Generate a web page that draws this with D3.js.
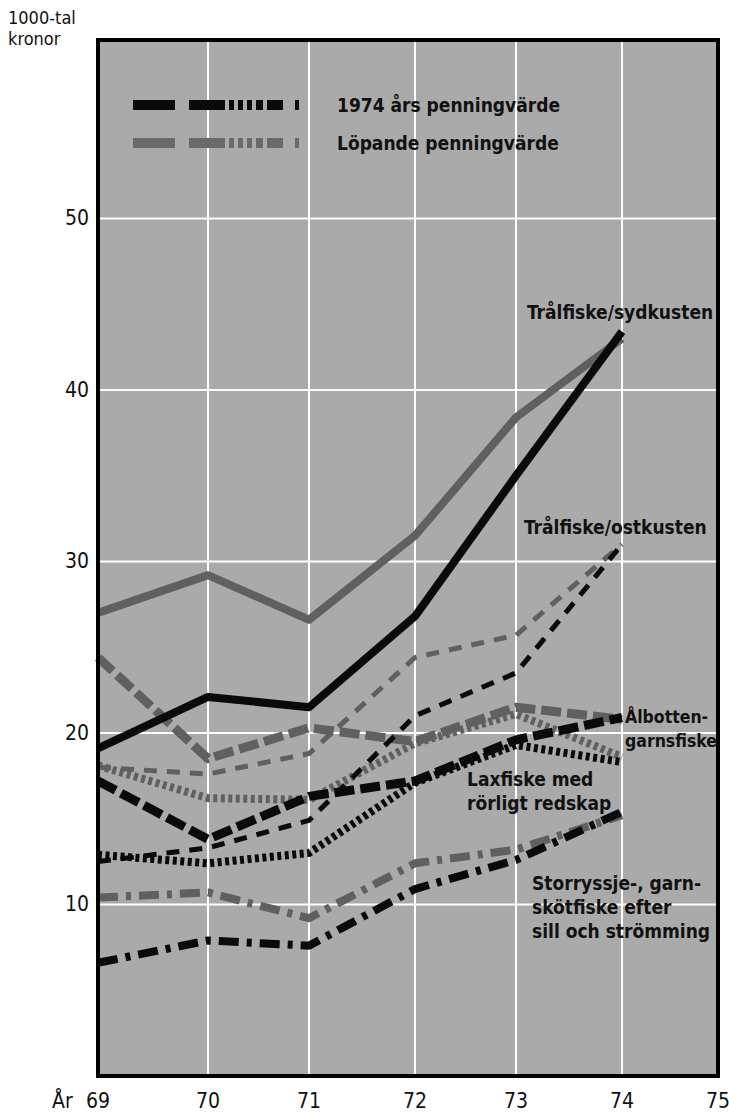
<!DOCTYPE html>
<html>
<head>
<meta charset="utf-8">
<script src="https://cdn.jsdelivr.net/npm/d3@7"></script>
<style>
  body { margin: 0; background: #fff; }
  svg text { font-family: "Liberation Sans Narrow", "DejaVu Sans Condensed", "Liberation Sans", sans-serif; fill: #111; }
</style>
</head>
<body>
<svg id="chart" width="729" height="1113"></svg>
<script>
var years = [69, 70, 71, 72, 73, 74];
var xTicks = [69, 70, 71, 72, 73, 74, 75];
var yTicks = [10, 20, 30, 40, 50];

// 1000-tal kronor, 1974 års penningvärde (svart) och löpande (grå)
var sydkusten1974 = [19.1, 22.1, 21.5, 26.8, 35.0, 43.4];
var sydkustenLop  = [27.0, 29.2, 26.6, 31.5, 38.4, 43.0];
var ostkusten1974 = [12.5, 13.3, 14.9, 21.0, 23.5, 31.0];
var ostkustenLop  = [18.0, 17.6, 18.8, 24.4, 25.7, 31.0];
var albotten1974  = [17.2, 13.8, 16.3, 17.2, 19.6, 20.9];
var albottenLop   = [24.4, 18.5, 20.3, 19.5, 21.5, 20.8];
var laxfiske1974  = [12.9, 12.4, 13.0, 17.1, 19.3, 18.3];
var laxfiskeLop   = [18.1, 16.2, 16.1, 19.4, 21.1, 18.6];
var storryssje1974 = [6.6, 7.9, 7.6, 10.9, 12.6, 15.4];
var storryssjeLop  = [10.4, 10.7, 9.2, 12.4, 13.2, 15.2];

var BLACK = "#0a0a0a", GRAY = "#606060", BG = "#aaaaaa";

var svg = d3.select("#chart");

// the printed grid is a bit uneven, so the x scale is piecewise
var x = d3.scaleLinear()
    .domain(xTicks)
    .range([98, 208, 309, 415, 516, 622, 718]);

var y = d3.scaleLinear()
    .domain([0, 60.4])
    .range([1076, 40]);

var styles = {
  solid:   { w: 8, dash: null },
  thin:    { w: 5, dash: "13 10" },
  long:    { w: 9, dash: "20 6" },
  dotted:  { w: 8, dash: "4 3.5" },
  dashdot: { w: 8, dash: "20 8 5 8" }
};

var series = [
  { v: sydkustenLop, c: GRAY, s: "solid" },
  { v: ostkustenLop, c: GRAY, s: "thin" },
  { v: albottenLop, c: GRAY, s: "long" },
  { v: laxfiskeLop, c: GRAY, s: "dotted" },
  { v: storryssjeLop, c: GRAY, s: "dashdot" },
  { v: sydkusten1974, c: BLACK, s: "solid" },
  { v: ostkusten1974, c: BLACK, s: "thin" },
  { v: laxfiske1974, c: BLACK, s: "dotted" },
  { v: albotten1974, c: BLACK, s: "long" },
  { v: storryssje1974, c: BLACK, s: "dashdot" }
];

// plot background
svg.append("rect")
  .attr("x", x(69)).attr("y", y(60.4))
  .attr("width", x(75) - x(69)).attr("height", y(0) - y(60.4))
  .attr("fill", BG);

// grid
var g = svg.append("g");
g.selectAll(".vgrid").data(xTicks.slice(1, -1)).enter().append("line")
  .attr("x1", function(d) { return x(d); }).attr("x2", function(d) { return x(d); })
  .attr("y1", y(60.4)).attr("y2", y(0))
  .attr("stroke", "#fff").attr("stroke-width", 2);
g.selectAll(".hgrid").data(yTicks).enter().append("line")
  .attr("x1", x(69)).attr("x2", x(75))
  .attr("y1", function(d) { return y(d); }).attr("y2", function(d) { return y(d); })
  .attr("stroke", "#fff").attr("stroke-width", 2);

// lines
var line = d3.line()
  .x(function(d, i) { return x(years[i]); })
  .y(function(d) { return y(d); });

svg.selectAll(".series").data(series).enter().append("path")
  .attr("d", function(d) { return line(d.v); })
  .attr("fill", "none")
  .attr("stroke", function(d) { return d.c; })
  .attr("stroke-width", function(d) { return styles[d.s].w; })
  .attr("stroke-dasharray", function(d) { return styles[d.s].dash; })
  .attr("stroke-linejoin", "round")
  .attr("stroke-linecap", "butt");

// frame
svg.append("rect")
  .attr("x", x(69)).attr("y", y(60.4))
  .attr("width", x(75) - x(69)).attr("height", y(0) - y(60.4))
  .attr("fill", "none").attr("stroke", "#000").attr("stroke-width", 4);

// y axis labels
svg.selectAll(".ylab").data(yTicks).enter().append("text")
  .attr("x", 89).attr("y", function(d) { return y(d) + 7; })
  .attr("text-anchor", "end")
  .style("font-size", "21px")
  .text(function(d) { return d; });

svg.append("text").attr("x", 8).attr("y", 24).style("font-size", "18px").text("1000-tal");
svg.append("text").attr("x", 8).attr("y", 45).style("font-size", "18px").text("kronor");

// x axis labels
svg.selectAll(".xlab").data(xTicks).enter().append("text")
  .attr("x", function(d) { return x(d); }).attr("y", 1108)
  .attr("text-anchor", "middle")
  .style("font-size", "21px")
  .text(function(d) { return d; });
svg.append("text").attr("x", 52).attr("y", 1108).style("font-size", "21px").text("År");

// legend
var legend = [
  { label: "1974 års penningvärde", c: BLACK },
  { label: "Löpande penningvärde", c: "#6a6a6a" }
];
var lg = svg.selectAll(".legend").data(legend).enter().append("g")
  .attr("transform", function(d, i) { return "translate(0," + (105 + i * 38) + ")"; });
lg.append("line")
  .attr("x1", 133).attr("x2", 300)
  .attr("stroke", function(d) { return d.c; })
  .attr("stroke-width", 10)
  .attr("stroke-dasharray", "42 14 36 4 5 4 5 4 5 4 7 4 16 12 4");
lg.append("text")
  .attr("x", 337).attr("y", 7)
  .style("font-size", "19px").style("font-weight", "bold")
  .text(function(d) { return d.label; });

// series labels
var labels = [
  { lines: ["Trålfiske/sydkusten"], x: 527, y: 319, size: 19 },
  { lines: ["Trålfiske/ostkusten"], x: 524, y: 534, size: 19 },
  { lines: ["Ålbotten-", "garnsfiske"], x: 625, y: 723, size: 17.5 },
  { lines: ["Laxfiske med", "rörligt redskap"], x: 467, y: 786, size: 19 },
  { lines: ["Storryssje-, garn-", "skötfiske efter", "sill och strömming"], x: 532, y: 890, size: 19 }
];
svg.selectAll(".slab").data(labels).enter().append("text")
  .attr("x", function(d) { return d.x; })
  .attr("y", function(d) { return d.y; })
  .style("font-size", function(d) { return d.size + "px"; })
  .style("font-weight", "bold")
  .each(function(d) {
    d3.select(this).selectAll("tspan").data(d.lines).enter().append("tspan")
      .attr("x", d.x).attr("dy", function(t, i) { return i ? 24 : 0; })
      .text(function(t) { return t; });
  });
</script>
</body>
</html>
